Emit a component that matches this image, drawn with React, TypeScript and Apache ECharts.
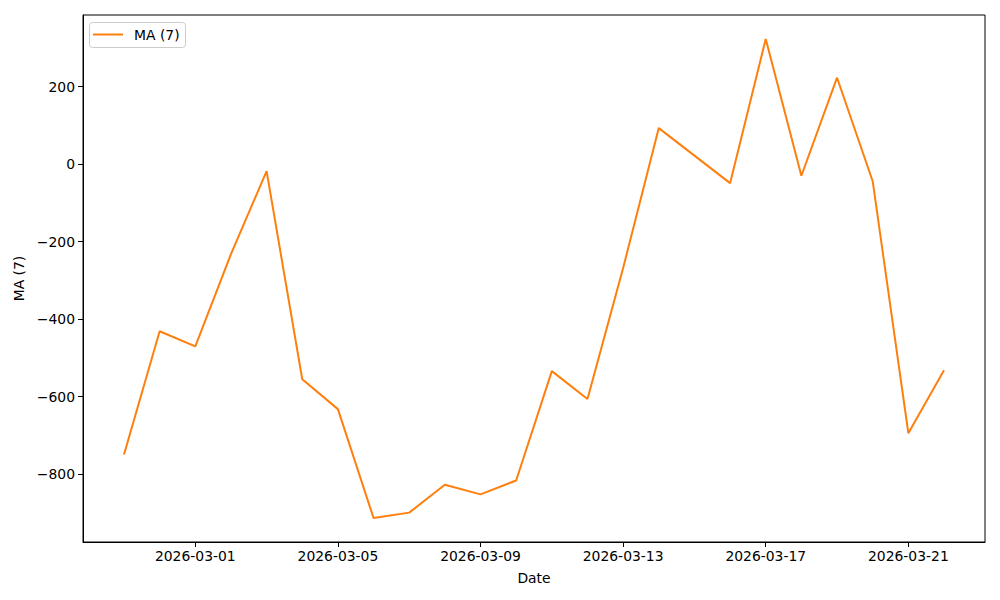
import React, { useEffect, useRef } from "react";
import * as echarts from "echarts";

const dates: string[] = [
  "2026-02-27", "2026-02-28", "2026-03-01", "2026-03-02", "2026-03-03", "2026-03-04",
  "2026-03-05", "2026-03-06", "2026-03-07", "2026-03-08", "2026-03-09", "2026-03-10",
  "2026-03-11", "2026-03-12", "2026-03-13", "2026-03-14", "2026-03-15", "2026-03-16",
  "2026-03-17", "2026-03-18", "2026-03-19", "2026-03-20", "2026-03-21", "2026-03-22",
];
const maValues: number[] = [
  -749, -431, -470, -232, -18, -555,
  -632, -913, -899, -827, -852, -816,
  -534, -606, -268, 93, 22, -49,
  323, -30, 223, -44, -694, -532,
];
const xTickDates: string[] = ["2026-03-01", "2026-03-05", "2026-03-09", "2026-03-13", "2026-03-17", "2026-03-21"];
const yTicks: number[] = [-800, -600, -400, -200, 0, 200];
const seriesName = "MA (7)";

const DAY = 86400000;
const base = Date.UTC(2026, 2, 1);
const toDay = (s: string) => {
  const [y, m, d] = s.split("-").map(Number);
  return (Date.UTC(y, m - 1, d) - base) / DAY;
};
const dayToLabel = (v: number) => {
  const d = new Date(base + Math.round(v) * DAY);
  const mm = String(d.getUTCMonth() + 1).padStart(2, "0");
  const dd = String(d.getUTCDate()).padStart(2, "0");
  return `${d.getUTCFullYear()}-${mm}-${dd}`;
};

const FONT = "DejaVu Sans";
const FS = 13.9;
const ORANGE = "#ff7f0e";

export default function App() {
  const ref = useRef<HTMLDivElement>(null);
  useEffect(() => {
    if (!ref.current) return;
    const chart = echarts.init(ref.current, undefined, { renderer: "svg" });
    const xs = dates.map(toDay);
    const xMinD = Math.min(...xs), xMaxD = Math.max(...xs);
    const xPad = (xMaxD - xMinD) * 0.05;
    const yMinD = Math.min(...maValues), yMaxD = Math.max(...maValues);
    const yPad = (yMaxD - yMinD) * 0.05;
    const data = xs.map((x, i) => [x, maValues[i]]);
    chart.setOption({
      animation: false,
      backgroundColor: "#ffffff",
      grid: {
        left: 83, right: 15, top: 15, bottom: 58,
        show: true, borderColor: "#000", borderWidth: 1, backgroundColor: "transparent",
      },
      xAxis: {
        type: "value",
        min: xMinD - xPad,
        max: xMaxD + xPad,
        name: "Date",
        nameLocation: "middle",
        nameGap: 29,
        nameTextStyle: { fontFamily: FONT, fontSize: FS, color: "#000" },
        axisLine: { show: true, onZero: false, lineStyle: { color: "#000", width: 1 } },
        axisTick: { show: true, length: 5, inside: false, lineStyle: { color: "#000" }, customValues: xTickDates.map(toDay) },
        axisLabel: {
          fontFamily: FONT, fontSize: FS, color: "#000", margin: 7,
          customValues: xTickDates.map(toDay),
          formatter: (v: number) => dayToLabel(v),
        },
        splitLine: { show: false },
      },
      yAxis: {
        type: "value",
        min: yMinD - yPad,
        max: yMaxD + yPad,
        name: seriesName,
        nameLocation: "middle",
        nameGap: 53,
        nameRotate: 90,
        nameTextStyle: { fontFamily: FONT, fontSize: FS, color: "#000" },
        axisLine: { show: true, onZero: false, lineStyle: { color: "#000", width: 1 } },
        axisTick: { show: true, length: 5, inside: false, lineStyle: { color: "#000" }, customValues: yTicks },
        axisLabel: {
          fontFamily: FONT, fontSize: FS, color: "#000", margin: 8,
          customValues: yTicks,
          formatter: (v: number) => String(v).replace("-", "\u2212"),
        },
        splitLine: { show: false },
      },
      series: [
        {
          type: "line",
          name: seriesName,
          data,
          showSymbol: false,
          symbol: "none",
          lineStyle: { color: ORANGE, width: 2 },
          itemStyle: { color: ORANGE },
        },
      ],
      graphic: [
        {
          type: "rect",
          shape: { x: 89.5, y: 22.5, width: 96, height: 25, r: 3 },
          style: { fill: "rgba(255,255,255,0.8)", stroke: "#cccccc", lineWidth: 1 },
          z: 100,
        },
        {
          type: "line",
          shape: { x1: 93, y1: 34.5, x2: 123, y2: 34.5 },
          style: { stroke: ORANGE, lineWidth: 2 },
          z: 101,
        },
        {
          type: "text",
          x: 134, y: 35,
          style: { text: seriesName, fontFamily: FONT, fontSize: FS, fill: "#000", verticalAlign: "middle", align: "left" },
          z: 101,
        },
      ],
    });
    return () => chart.dispose();
  }, []);
  return <div ref={ref} style={{ position: "absolute", left: 0, top: 0, width: 1000, height: 600 }} />;
}
